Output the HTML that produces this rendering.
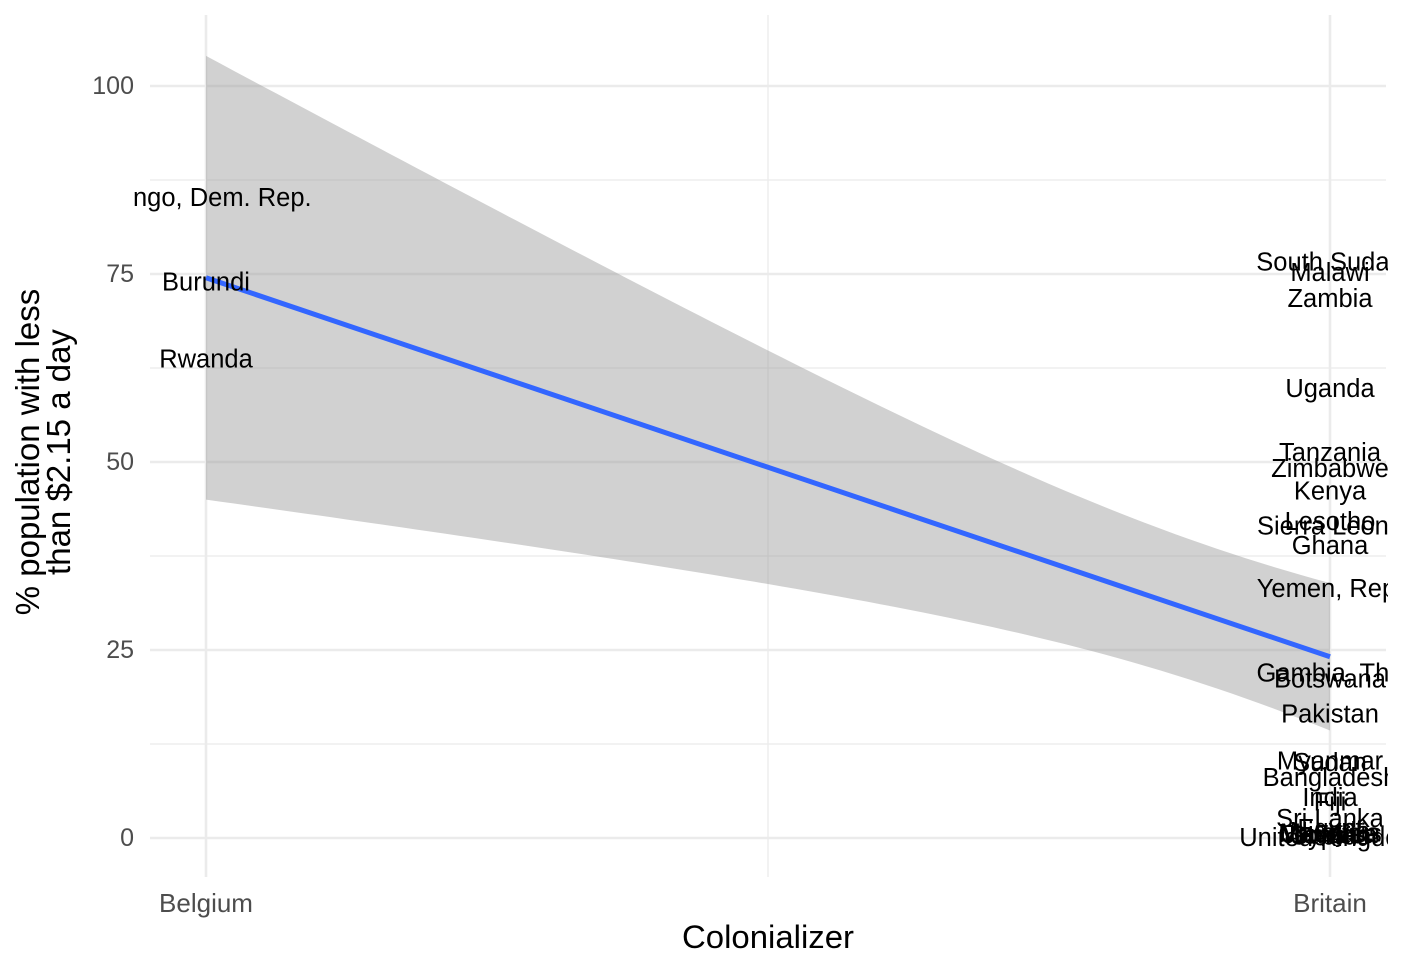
<!DOCTYPE html>
<html><head><meta charset="utf-8"><style>
html,body{margin:0;padding:0;background:#fff}
svg{display:block;font-family:"Liberation Sans",Arial,sans-serif}
</style></head><body>
<svg id="chart" width="1404" height="972" viewBox="0 0 1404 972" xmlns="http://www.w3.org/2000/svg">
<defs><clipPath id="clip"><rect x="132" y="10" width="1256" height="870"/></clipPath></defs>
<g id="grid"></g>
<g id="band"></g>
<g id="labels" clip-path="url(#clip)"></g>
<g id="axes"></g>
<text x="768" y="948" font-size="32" text-anchor="middle" fill="#000" textLength="172" lengthAdjust="spacingAndGlyphs">Colonializer</text>
<text transform="translate(47,452) rotate(-90)" font-size="33" text-anchor="middle" fill="#000"><tspan x="0" dy="-8">% population with less</tspan><tspan x="0" dy="31">than $2.15 a day</tspan></text>
</svg>
<script>
const categories = ["Belgium", "Britain"];
const yTicks = [0, 25, 50, 75, 100];
const yMinor = [12.5, 37.5, 62.5, 87.5];
const belgiumNames = ["Congo, Dem. Rep.", "Burundi", "Rwanda"];
const belgiumValues = [85.1, 73.9, 63.6];
const britainNames = ["South Sudan","Malawi","Zambia","Uganda","Tanzania","Zimbabwe","Kenya","Lesotho","Sierra Leone","Ghana","Yemen, Rep.","Gambia, The","Botswana","Pakistan","Myanmar","Sudan","Bangladesh","India","Fiji","Sri Lanka","Egypt","Nigeria","Malaysia","Mauritius","Jamaica","Jordan","Cyprus","United Kingdom"];
const britainValues = [76.5,75.1,71.7,59.7,51.2,49.1,46.1,42.0,41.4,38.8,33.1,21.9,21.1,16.4,10.2,10.0,8.0,5.3,4.7,2.5,1.2,0.8,0.6,0.5,0.4,0.3,0.2,0.0];
const fitEnds = [74.5, 24.1];
const ciHalfEnds = [29.5, 9.8];
const ciCenter = 0.9;

const NS = "http://www.w3.org/2000/svg";
const xS = i => 206 + i * (1330 - 206);
const yS = v => 838 - v * 7.52;
function mk(tag, attrs, parent, txt){const e=document.createElementNS(NS,tag);for(const k in attrs)e.setAttribute(k,attrs[k]);if(txt!==undefined)e.textContent=txt;parent.appendChild(e);return e;}
const grid=document.getElementById('grid'), band=document.getElementById('band'), labels=document.getElementById('labels'), axes=document.getElementById('axes');
const L=150, R=1386, T=15, B=877;
yMinor.forEach(v=>{const g=mk('line',{x1:L,x2:R,y1:yS(v),y2:yS(v),stroke:'#ebebeb','stroke-width':1.3},grid);

});
{const g=mk('line',{x1:xS(0.5),x2:xS(0.5),y1:T,y2:B,stroke:'#ebebeb','stroke-width':1.3},grid);

}
yTicks.forEach(v=>{const g=mk('line',{x1:L,x2:R,y1:yS(v),y2:yS(v),stroke:'#ebebeb','stroke-width':2.6},grid);


const t=mk('text',{x:134,y:yS(v)+8,'font-size':25,'text-anchor':'end',fill:'#4d4d4d'},axes,String(v));

});
categories.forEach((c,i)=>{const g=mk('line',{x1:xS(i),x2:xS(i),y1:T,y2:B,stroke:'#ebebeb','stroke-width':2.6},grid);


const t=mk('text',{x:xS(i),y:912,'font-size':26,'text-anchor':'middle',fill:'#4d4d4d'},axes,c);

});
const m=ciCenter, h0=ciHalfEnds[0]**2, h1=ciHalfEnds[1]**2;
const d=(h0-h1)/(m*m-(1-m)*(1-m)), c=h0-d*m*m;
const fit=x=>fitEnds[0]+(fitEnds[1]-fitEnds[0])*x, hw=x=>Math.sqrt(c+d*(x-m)*(x-m));
let up=[],lo=[];
for(let k=0;k<=80;k++){const x=k/80;up.push(xS(x)+','+yS(fit(x)+hw(x)));lo.unshift(xS(x)+','+yS(fit(x)-hw(x)));}
const poly=mk('polygon',{points:up.concat(lo).join(' '),fill:'#999999','fill-opacity':0.45},band);


const ln=mk('line',{x1:xS(0),y1:yS(fitEnds[0]),x2:xS(1),y2:yS(fitEnds[1]),stroke:'#3366FF','stroke-width':5},band);


function addLabels(names,vals,i){names.forEach((n,j)=>{const t=mk('text',{x:xS(i),y:yS(vals[j])+8,'font-size':25.5,'text-anchor':'middle',fill:'#000'},labels,n);

});}
addLabels(belgiumNames,belgiumValues,0);
addLabels(britainNames,britainValues,1);
</script>
</body></html>
